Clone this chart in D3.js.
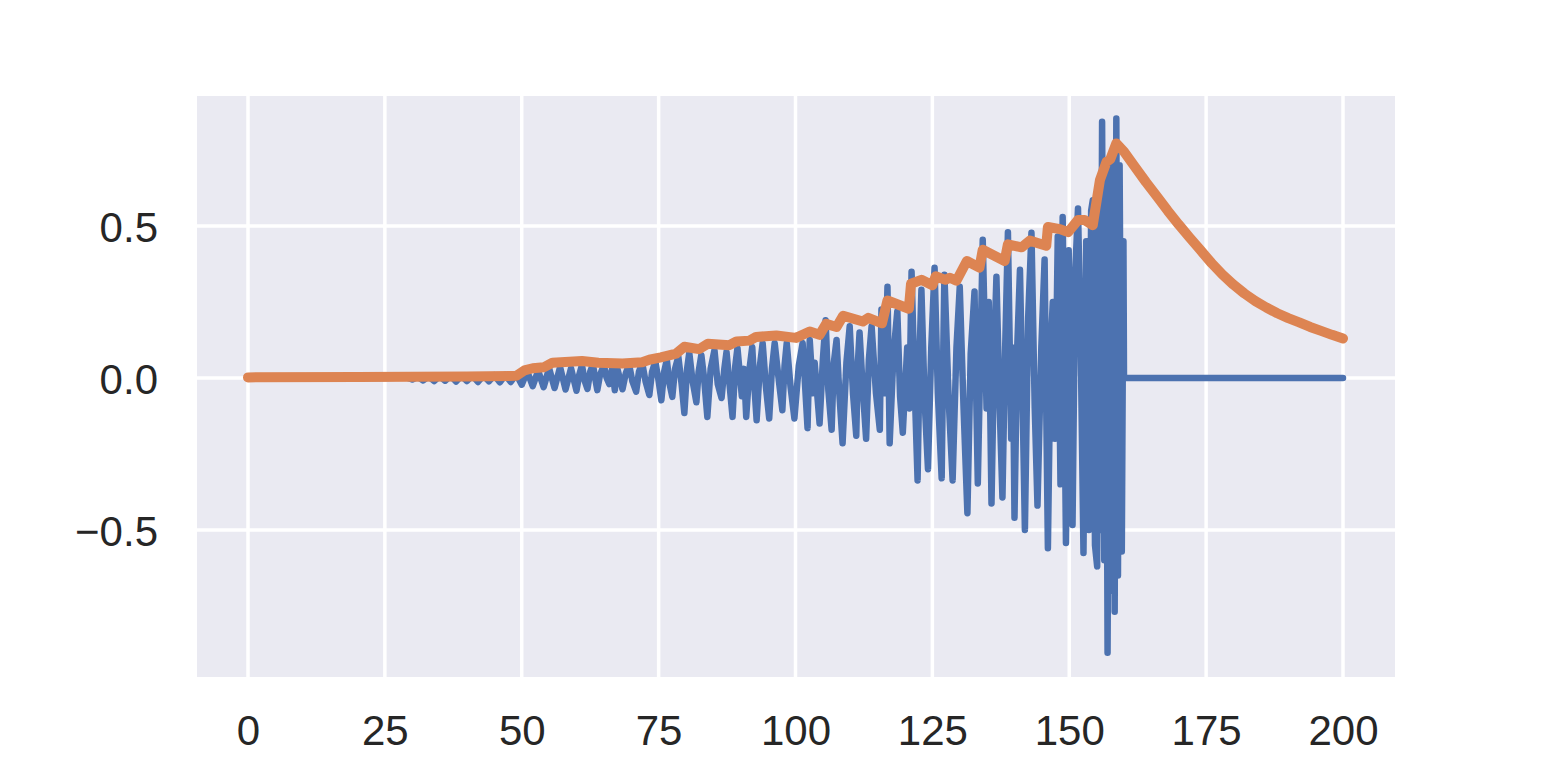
<!DOCTYPE html>
<html>
<head>
<meta charset="utf-8">
<script src="https://cdn.jsdelivr.net/npm/d3@7"></script>
<style>
  html, body { margin: 0; padding: 0; background: #ffffff; }
  svg { display: block; }
</style>
</head>
<body>
<svg id="chart" width="1552" height="776"></svg>
<script>
// ---- data ----
const xTicks = [0, 25, 50, 75, 100, 125, 150, 175, 200];
const yTicks = [-0.5, 0.0, 0.5];
const yTickLabels = ["\u22120.5", "0.0", "0.5"];

// blue signal: [t, value] vertices
const signal = [
  [0,0],[25,0],[29,0.002],[30,-0.005],[31,0.004],[32,-0.008],[33,0.005],[34,-0.01],
  [35,0.006],[36,-0.009],[37,0.007],[38,-0.012],[39,0.007],[40,-0.01],[41,0.008],
  [42,-0.013],[43,0.008],[44,-0.011],[45,0.009],[46,-0.014],[47,0.01],[48,-0.013],
  [49,0.012],[50,-0.022],[51,0.022],[52,-0.027],[53,0.024],[54,-0.03],[55,0.032],
  [56,-0.033],[57,0.036],[58,-0.038],[59,0.032],[60,-0.042],[60.5,0.01],[61,0.042],
  [61.5,-0.01],[62,-0.036],[62.5,0.02],[63,0.045],[63.4,0.0],[63.8,-0.04],[64.3,0.01],
  [65,0.042],[65.5,0.0],[66,-0.02],[66.5,0.03],[67,-0.04],[67.4,0.035],[68.4,-0.037],
  [69,0.015],[69.6,0.045],[70.2,-0.01],[70.9,-0.045],[71.4,0.02],[72,0.05],[72.6,-0.01],
  [73.3,-0.056],[73.8,0.02],[74.4,0.055],[75,-0.01],[75.5,-0.073],[76,0.02],[76.5,0.06],
  [77,-0.02],[77.5,-0.062],[78,0.03],[78.6,0.07],[79.2,-0.02],[79.7,-0.115],[80.2,0.03],
  [80.6,0.083],[81.2,-0.01],[81.9,-0.08],[82.3,0.02],[82.8,0.076],[83.3,0.0],[83.9,-0.128],
  [84.5,0.03],[85.2,0.092],[85.8,-0.02],[86.5,-0.066],[87,0.03],[87.4,0.086],[88,-0.03],
  [88.5,-0.128],[89,0.04],[89.4,0.099],[90.2,-0.06],[90.6,0.03],[91.0,-0.128],[91.6,0.03],
  [92.1,0.102],[92.5,-0.03],[92.9,-0.139],[93.5,0.04],[94,0.115],[94.6,-0.03],[95.2,-0.133],
  [95.7,0.03],[96.2,0.115],[96.9,0.0],[97.6,-0.106],[98,0.04],[98.4,0.115],[99.1,-0.03],
  [99.8,-0.133],[100.6,0.04],[101.3,0.115],[101.8,-0.04],[102.2,-0.165],[102.6,0.125],
  [103.2,-0.05],[103.5,0.05],[104.4,-0.15],[105,0.06],[105.5,0.19],[106,-0.04],[106.6,-0.17],
  [107,0.05],[107.5,0.125],[108,-0.05],[108.6,-0.215],[109.3,0.05],[109.9,0.17],[110.5,-0.05],
  [111.1,-0.19],[111.4,0.05],[111.7,0.15],[112.3,-0.04],[112.9,-0.2],[113.4,0.06],[113.9,0.17],
  [114.7,-0.05],[115.4,-0.17],[115.7,0.225],[116.3,-0.05],[116.8,0.3],[117.2,-0.215],
  [117.9,0.08],[118.6,0.22],[119.1,-0.06],[119.6,-0.18],[120.4,0.1],[120.8,-0.1],[121.2,0.35],
  [121.8,-0.05],[122.3,-0.337],[122.7,0.1],[123,0.29],[123.6,-0.08],[124.2,-0.3],[124.8,0.1],
  [125.4,0.363],[126,-0.05],[126.7,-0.33],[127,0.1],[127.2,0.34],[128,-0.08],[128.7,-0.337],
  [129.4,0.1],[130.0,0.3],[130.7,-0.1],[131.4,-0.445],[132,0.08],[132.7,0.285],[133,-0.05],
  [133.3,-0.347],[133.8,0.1],[134.2,0.455],[134.9,-0.1],[135.3,0.25],[135.8,-0.413],
  [136.3,0.1],[136.7,0.333],[137.3,-0.1],[137.8,-0.393],[138.3,0.1],[138.8,0.48],[139.4,-0.2],
  [139.7,0.1],[140,-0.46],[140.5,0.1],[141,0.356],[141.5,-0.1],[141.9,-0.5],[142.5,0.2],
  [143.1,0.478],[143.7,-0.1],[144.2,-0.42],[144.9,0.1],[145.5,0.39],[145.8,-0.1],[146.1,-0.56],
  [146.6,0.1],[147.0,0.25],[147.4,-0.2],[147.9,0.466],[148.4,-0.35],[148.8,0.53],[149.4,-0.543],
  [149.9,0.42],[150.6,-0.484],[151.1,0.35],[151.6,0.558],[152.1,0.1],[152.6,-0.576],[153.1,0.45],
  [153.6,-0.5],[154.0,0.55],[154.3,0.585],[154.7,-0.55],[155.1,-0.62],[155.4,0.62],[155.7,-0.5],
  [156.0,0.843],[156.4,-0.6],[156.7,0.7],[157.0,-0.904],[157.4,0.72],[157.8,-0.7],[158.1,0.75],
  [158.3,-0.769],[158.6,0.854],[158.9,-0.65],[159.2,0.7],[159.6,-0.571],[159.9,0.45],
  [160.0,0],[200,0]
];

// orange envelope: [t, value] vertices
const envelope = [
  [0,0.002],[20,0.003],[30,0.004],[40,0.005],[49,0.007],[50.5,0.025],[52,0.032],
  [54,0.035],[55.6,0.05],[61,0.056],[64,0.05],[68.4,0.048],[72,0.052],[73.3,0.06],
  [75.4,0.068],[78.2,0.08],[79.7,0.103],[82.4,0.095],[84,0.113],[87.9,0.108],
  [89.2,0.12],[91.6,0.123],[92.8,0.135],[96.5,0.14],[100.1,0.132],[102,0.148],
  [102.6,0.153],[104.4,0.142],[105.6,0.178],[107.5,0.168],[108.7,0.205],[112.3,0.186],
  [113.3,0.198],[115.8,0.18],[116.8,0.255],[120.7,0.228],[121.1,0.31],[123,0.323],
  [125,0.305],[125.6,0.335],[127.4,0.323],[128.2,0.33],[129.4,0.32],[131.3,0.385],
  [133.6,0.363],[134.2,0.422],[138.2,0.385],[138.8,0.44],[141.3,0.43],[142.8,0.452],
  [145.8,0.435],[146.1,0.497],[148.3,0.49],[149.8,0.48],[151.6,0.52],[152.8,0.52],
  [154.3,0.503],[155.6,0.651],[156.8,0.711],[157.5,0.72],[158.6,0.772],[160,0.745],
  [162,0.695],[164,0.645],[166,0.598],[168,0.55],[170,0.505],[172,0.462],[174,0.42],
  [176,0.378],[178,0.34],[180,0.307],[182,0.278],[184,0.253],[186,0.232],[188,0.213],
  [190,0.197],[192,0.183],[194,0.168],[196,0.155],[198,0.142],[200,0.13]
];

// ---- layout ----
const plot = { left: 197, right: 1395, top: 96, bottom: 677 };
const svg = d3.select("#chart");

const x = d3.scaleLinear().domain([-9.315, 209.5]).range([plot.left, plot.right]);
const y = d3.scaleLinear().domain([-0.984, 0.928]).range([plot.bottom, plot.top]);

svg.append("rect")
  .attr("x", plot.left).attr("y", plot.top)
  .attr("width", plot.right - plot.left).attr("height", plot.bottom - plot.top)
  .attr("fill", "#EAEAF2");

const grid = svg.append("g");
grid.selectAll("line.vx").data(xTicks).enter().append("line")
  .attr("x1", d => x(d)).attr("x2", d => x(d))
  .attr("y1", plot.top).attr("y2", plot.bottom)
  .attr("stroke", "#ffffff").attr("stroke-width", 3.5);
grid.selectAll("line.hy").data(yTicks).enter().append("line")
  .attr("y1", d => y(d)).attr("y2", d => y(d))
  .attr("x1", plot.left).attr("x2", plot.right)
  .attr("stroke", "#ffffff").attr("stroke-width", 3.5);

// axes (labels only, seaborn darkgrid style)
const xAxis = d3.axisBottom(x).tickValues(xTicks).tickSize(0).tickPadding(0).tickFormat(d3.format("d"));
const gx = svg.append("g").attr("transform", `translate(0,${plot.bottom})`).call(xAxis);
gx.select(".domain").remove();
gx.selectAll("text")
  .attr("y", 68).attr("dy", 0)
  .attr("font-family", "'Liberation Sans', Arial, sans-serif")
  .attr("font-size", 42).attr("fill", "#262626");

const yAxis = d3.axisLeft(y).tickValues(yTicks).tickSize(0).tickPadding(0)
  .tickFormat((d, i) => yTickLabels[i]);
const gy = svg.append("g").attr("transform", `translate(${plot.left},0)`).call(yAxis);
gy.select(".domain").remove();
gy.selectAll("text")
  .attr("x", -39).attr("dy", "0.36em")
  .attr("font-family", "'Liberation Sans', Arial, sans-serif")
  .attr("font-size", 42).attr("fill", "#262626");

const line = d3.line().x(d => x(d[0])).y(d => y(d[1]));

svg.append("path").datum(signal)
  .attr("d", line)
  .style("fill", "none").style("stroke", "#4C72B0")
  .style("stroke-width", "6.5px").style("stroke-linejoin", "round").style("stroke-linecap", "round");

svg.append("path").datum(envelope)
  .attr("d", line)
  .style("fill", "none").style("stroke", "#DD8452")
  .style("stroke-width", "10px").style("stroke-linejoin", "round").style("stroke-linecap", "round");
</script>
</body>
</html>
